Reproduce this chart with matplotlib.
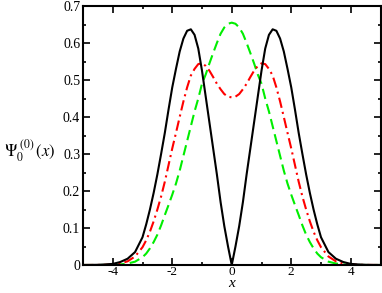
import numpy as np
import matplotlib
matplotlib.use("Agg")
import matplotlib.pyplot as plt
from matplotlib.ticker import MultipleLocator

plt.rcParams['font.family'] = ['Liberation Serif', 'DejaVu Serif']
plt.rcParams['mathtext.fontset'] = 'stix'
plt.rcParams['axes.unicode_minus'] = False

# values, x >= 0 half (the curves are even in x)
x_half = [0.0, 0.125, 0.25, 0.375, 0.5, 0.625, 0.75, 0.875, 1.0, 1.125, 1.25,
          1.375, 1.5, 1.625, 1.75, 1.875, 2.0, 2.125, 2.25, 2.375, 2.5,
          2.625, 2.75, 2.875, 3.0, 3.25, 3.5, 3.75, 4.0, 4.25, 4.5, 4.75, 5.0]

black_half = [0.0, 0.05, 0.105, 0.17, 0.245, 0.315, 0.385, 0.455, 0.525, 0.585, 0.622,
              0.637, 0.633, 0.612, 0.577, 0.53, 0.48, 0.42, 0.357, 0.30, 0.245,
              0.195, 0.15, 0.11, 0.075, 0.035, 0.017, 0.008, 0.003, 0.0015, 0.0005, 0.0002, 0.0001]

red_half = [0.453, 0.455, 0.462, 0.475, 0.49, 0.508, 0.525, 0.538, 0.545, 0.543, 0.53,
            0.512, 0.48, 0.442, 0.40, 0.357, 0.315, 0.27, 0.225, 0.185, 0.15,
            0.118, 0.09, 0.067, 0.048, 0.023, 0.01, 0.004, 0.0015, 0.0005, 0.0002, 0.0001, 0.0]

green_half = [0.655, 0.652, 0.642, 0.625, 0.60, 0.573, 0.545, 0.515, 0.49, 0.45, 0.415,
              0.375, 0.335, 0.295, 0.255, 0.22, 0.19, 0.162, 0.135, 0.107, 0.082,
              0.062, 0.045, 0.031, 0.021, 0.009, 0.004, 0.0015, 0.0005, 0.0001, 0.0, 0.0, 0.0]


def mirror(v, sign=1):
    return [sign * a for a in v[:0:-1]] + list(v)


x = mirror(x_half, -1)
black = mirror(black_half)
red = mirror(red_half)
green = mirror(green_half)

fig = plt.figure(figsize=(3.82, 2.93), dpi=100)
ax = fig.add_axes([83/382, 1-265/293, 297.5/382, 259/293])

ax.plot(x, green, color='#00ee00', lw=1.5, ls=(0, (5, 2.5)))
ax.plot(x, red, color='#ff0000', lw=1.5, ls=(0, (5, 2, 1, 2)))
ax.plot(x, black, color='black', lw=1.5)

ax.set_xlim(-5, 5)
ax.set_ylim(0, 0.7)
ax.xaxis.set_minor_locator(MultipleLocator(1))
ax.yaxis.set_minor_locator(MultipleLocator(0.05))
ax.set_yticks(np.arange(0, 0.71, 0.1))
ax.set_yticklabels(['0', '0.1', '0.2', '0.3', '0.4', '0.5', '0.6', '0.7'])
ax.set_xticks([-4, -2, 0, 2, 4])
ax.set_xticklabels(['-4', '-2', '0', '2', '4'])
ax.tick_params(which='both', direction='in', top=True, right=True, labelsize=10, width=1.2)
ax.tick_params(which='major', length=5, pad=2)
ax.tick_params(which='minor', length=2.5)
ax.tick_params(axis='x', pad=1, labelsize=9.5)
for s in ax.spines.values():
    s.set_linewidth(1.5)

ax.set_xlabel('x', fontsize=11, style='italic', labelpad=-1.2)
ax.set_ylabel(r'$\Psi_0^{\ (0)}\,(x)$', fontsize=12, rotation=0, ha='center', va='center')
ax.yaxis.set_label_coords(-0.18, 0.44)

fig.savefig('out.png', dpi=100)
